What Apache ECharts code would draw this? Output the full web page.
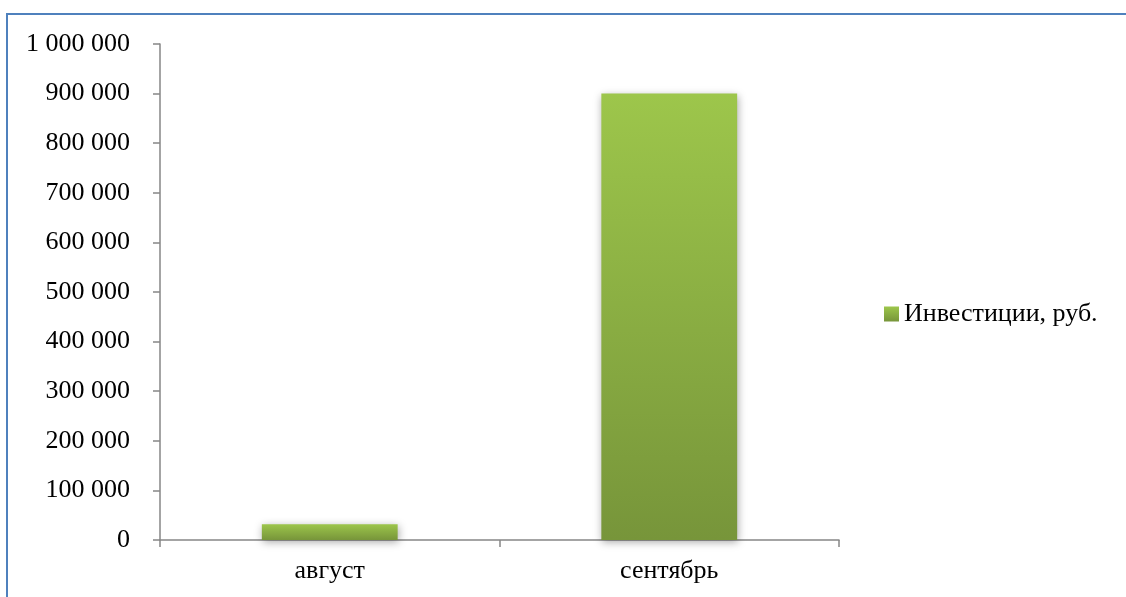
<!DOCTYPE html>
<html>
<head>
<meta charset="utf-8">
<script src="https://cdn.jsdelivr.net/npm/echarts@6/dist/echarts.min.js"></script>
<style>
html,body{margin:0;padding:0;background:#fff;}
#c{width:1126px;height:597px;}
</style>
</head>
<body>
<div id="c"></div>
<script>
const categories = ['август', 'сентябрь'];
const seriesName = 'Инвестиции, руб.';
const investments = [32000, 900000];
const yTicks = { min: 0, max: 1000000, interval: 100000 };

function fmt(v) {
  return String(v).replace(/\B(?=(\d{3})+(?!\d))/g, '\u00a0');
}

const barGradient = new echarts.graphic.LinearGradient(0, 0, 0, 1, [
  { offset: 0, color: '#9DC64B' },
  { offset: 1, color: '#77953A' }
]);

const chart = echarts.init(document.getElementById('c'), null, { renderer: 'canvas' });
const font = '"Liberation Serif", "Times New Roman", serif';
chart.setOption({
  animation: false,
  backgroundColor: '#ffffff',
  textStyle: { fontFamily: font },
  graphic: [{
    type: 'rect',
    shape: { x: 7, y: 14, width: 1300, height: 800 },
    style: { fill: 'none', stroke: '#4F81BD', lineWidth: 2 },
    silent: true,
    z: 100
  }],
  grid: { left: 160, right: 287, top: 44, bottom: 57, containLabel: false },
  legend: {
    left: 879,
    top: 294,
    itemWidth: 15,
    itemHeight: 15,
    itemGap: 6,
    icon: 'rect',
    textStyle: { fontFamily: font, fontSize: 26, color: '#000', lineHeight: 30 },
    data: [seriesName]
  },
  xAxis: {
    type: 'category',
    data: categories,
    axisLine: { lineStyle: { color: '#868686', width: 1.5 } },
    axisTick: { show: true, length: 7, lineStyle: { color: '#868686', width: 1.5 } },
    axisLabel: { fontFamily: font, fontSize: 26, color: '#000', margin: 18 }
  },
  yAxis: {
    type: 'value',
    min: yTicks.min,
    max: yTicks.max,
    interval: yTicks.interval,
    axisLine: { show: true, lineStyle: { color: '#868686', width: 1.5 } },
    axisTick: { show: true, length: 7, lineStyle: { color: '#868686', width: 1.5 } },
    splitLine: { show: false },
    axisLabel: { fontFamily: font, fontSize: 26, color: '#000', margin: 30, formatter: fmt }
  },
  series: [{
    name: seriesName,
    type: 'bar',
    data: investments,
    barWidth: '40%',
    itemStyle: {
      color: barGradient,
      shadowBlur: 8,
      shadowColor: 'rgba(0,0,0,0.35)',
      shadowOffsetX: 1,
      shadowOffsetY: 2
    }
  }]
});
</script>
</body>
</html>
